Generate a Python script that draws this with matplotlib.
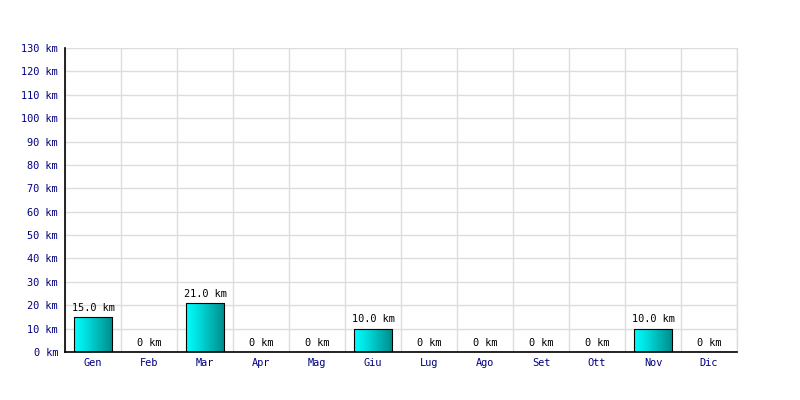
import matplotlib
matplotlib.use("Agg")
import matplotlib.pyplot as plt
import numpy as np
from matplotlib.colors import LinearSegmentedColormap

months = ["Gen", "Feb", "Mar", "Apr", "Mag", "Giu", "Lug", "Ago", "Set", "Ott", "Nov", "Dic"]
values = [15.0, 0, 21.0, 0, 0, 10.0, 0, 0, 0, 0, 10.0, 0]
yticks = list(range(0, 131, 10))

plt.rcParams['font.family'] = ['DejaVu Sans Mono']
fig = plt.figure(figsize=(8, 4), dpi=100)
ax = fig.add_axes([0.08125, 0.12, 0.84, 0.76])

x = np.arange(len(months))
ax.set_xlim(-0.5, len(months) - 0.5)
ax.set_ylim(0, 130)

cmap = LinearSegmentedColormap.from_list("cy", [(0, "#00ffff"), (0.35, "#00dada"), (1, "#008a8a")])
grad = np.linspace(0, 1, 256).reshape(1, -1)
bw = 0.68
bars = ax.bar(x, values, width=bw, facecolor="none", edgecolor="black", linewidth=0.8, zorder=3)
for b, v in zip(bars, values):
    if v > 0:
        x0 = b.get_x()
        im = ax.imshow(grad, cmap=cmap, aspect="auto", extent=[x0, x0 + bw, 0, v],
                       zorder=2, interpolation="bicubic")
        im.set_clip_path(b)
    lab = f"{v:.1f} km" if v > 0 else "0 km"
    ax.annotate(lab, (b.get_x() + bw / 2, v), xytext=(0, 3), textcoords="offset points",
                ha="center", va="bottom", fontsize=7.4, color="black")

ax.set_xticks(x)
ax.set_xticklabels(months)
ax.set_yticks(yticks)
ax.set_yticklabels([f"{t} km" for t in yticks])
ax.set_xticks(np.arange(-0.5, len(months)), minor=True)
ax.tick_params(axis="both", which="both", length=0, labelsize=7.4, labelcolor="#000080")
ax.tick_params(axis="y", pad=5)
ax.tick_params(axis="x", pad=4)
ax.grid(True, which="minor", axis="x", color="#dddddd", linewidth=1, zorder=0)
ax.grid(True, which="major", axis="y", color="#dddddd", linewidth=1, zorder=0)
ax.set_axisbelow(True)
ax.spines["top"].set_visible(False)
ax.spines["right"].set_color("#dddddd")
ax.spines["right"].set_linewidth(1)
ax.spines["left"].set_linewidth(1.2)
ax.spines["bottom"].set_linewidth(1.2)
ax.set_aspect("auto")

fig.savefig("out.png", dpi=100)
